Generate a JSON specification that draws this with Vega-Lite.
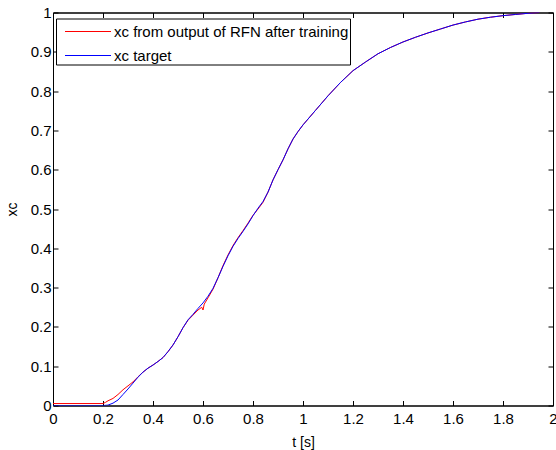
{
  "$schema": "https://vega.github.io/schema/vega-lite/v6.json",
  "width": 500,
  "height": 393,
  "autosize": "none",
  "padding": {"left": 53, "top": 12.5, "right": 3, "bottom": 44.5},
  "background": "white",
  "config": {
    "view": {"stroke": "black", "strokeWidth": 1},
    "font": "Liberation Sans",
    "axis": {
      "grid": false,
      "domainColor": "black",
      "tickColor": "black",
      "labelColor": "black",
      "titleColor": "black",
      "labelFont": "Liberation Sans",
      "titleFont": "Liberation Sans",
      "labelFontSize": 15,
      "titleFontSize": 14,
      "titleFontWeight": "normal",
      "tickSize": -5,
      "format": "~f"
    }
  },
  "data": {"values": [
    {"t": 0, "xc": 0.005, "s": "xc from output of RFN after training"},
    {"t": 0.2, "xc": 0.005, "s": "xc from output of RFN after training"},
    {"t": 0.21, "xc": 0.008, "s": "xc from output of RFN after training"},
    {"t": 0.22, "xc": 0.012, "s": "xc from output of RFN after training"},
    {"t": 0.24, "xc": 0.018, "s": "xc from output of RFN after training"},
    {"t": 0.26, "xc": 0.028, "s": "xc from output of RFN after training"},
    {"t": 0.28, "xc": 0.04, "s": "xc from output of RFN after training"},
    {"t": 0.3, "xc": 0.05, "s": "xc from output of RFN after training"},
    {"t": 0.32, "xc": 0.06, "s": "xc from output of RFN after training"},
    {"t": 0.34, "xc": 0.073, "s": "xc from output of RFN after training"},
    {"t": 0.36, "xc": 0.085, "s": "xc from output of RFN after training"},
    {"t": 0.38, "xc": 0.095, "s": "xc from output of RFN after training"},
    {"t": 0.4, "xc": 0.103, "s": "xc from output of RFN after training"},
    {"t": 0.42, "xc": 0.112, "s": "xc from output of RFN after training"},
    {"t": 0.44, "xc": 0.122, "s": "xc from output of RFN after training"},
    {"t": 0.46, "xc": 0.137, "s": "xc from output of RFN after training"},
    {"t": 0.48, "xc": 0.154, "s": "xc from output of RFN after training"},
    {"t": 0.5, "xc": 0.175, "s": "xc from output of RFN after training"},
    {"t": 0.52, "xc": 0.198, "s": "xc from output of RFN after training"},
    {"t": 0.54, "xc": 0.217, "s": "xc from output of RFN after training"},
    {"t": 0.56, "xc": 0.23, "s": "xc from output of RFN after training"},
    {"t": 0.58, "xc": 0.243, "s": "xc from output of RFN after training"},
    {"t": 0.595, "xc": 0.25, "s": "xc from output of RFN after training"},
    {"t": 0.6, "xc": 0.243, "s": "xc from output of RFN after training"},
    {"t": 0.605, "xc": 0.258, "s": "xc from output of RFN after training"},
    {"t": 0.62, "xc": 0.274, "s": "xc from output of RFN after training"},
    {"t": 0.64, "xc": 0.296, "s": "xc from output of RFN after training"},
    {"t": 0.66, "xc": 0.325, "s": "xc from output of RFN after training"},
    {"t": 0.68, "xc": 0.356, "s": "xc from output of RFN after training"},
    {"t": 0.7, "xc": 0.383, "s": "xc from output of RFN after training"},
    {"t": 0.72, "xc": 0.407, "s": "xc from output of RFN after training"},
    {"t": 0.74, "xc": 0.427, "s": "xc from output of RFN after training"},
    {"t": 0.76, "xc": 0.445, "s": "xc from output of RFN after training"},
    {"t": 0.78, "xc": 0.464, "s": "xc from output of RFN after training"},
    {"t": 0.8, "xc": 0.484, "s": "xc from output of RFN after training"},
    {"t": 0.82, "xc": 0.5, "s": "xc from output of RFN after training"},
    {"t": 0.84, "xc": 0.517, "s": "xc from output of RFN after training"},
    {"t": 0.86, "xc": 0.543, "s": "xc from output of RFN after training"},
    {"t": 0.88, "xc": 0.574, "s": "xc from output of RFN after training"},
    {"t": 0.9, "xc": 0.6, "s": "xc from output of RFN after training"},
    {"t": 0.92, "xc": 0.625, "s": "xc from output of RFN after training"},
    {"t": 0.94, "xc": 0.653, "s": "xc from output of RFN after training"},
    {"t": 0.96, "xc": 0.678, "s": "xc from output of RFN after training"},
    {"t": 0.98, "xc": 0.697, "s": "xc from output of RFN after training"},
    {"t": 1.0, "xc": 0.714, "s": "xc from output of RFN after training"},
    {"t": 1.05, "xc": 0.751, "s": "xc from output of RFN after training"},
    {"t": 1.1, "xc": 0.788, "s": "xc from output of RFN after training"},
    {"t": 1.15, "xc": 0.822, "s": "xc from output of RFN after training"},
    {"t": 1.2, "xc": 0.852, "s": "xc from output of RFN after training"},
    {"t": 1.25, "xc": 0.874, "s": "xc from output of RFN after training"},
    {"t": 1.3, "xc": 0.895, "s": "xc from output of RFN after training"},
    {"t": 1.35, "xc": 0.911, "s": "xc from output of RFN after training"},
    {"t": 1.4, "xc": 0.925, "s": "xc from output of RFN after training"},
    {"t": 1.45, "xc": 0.937, "s": "xc from output of RFN after training"},
    {"t": 1.5, "xc": 0.948, "s": "xc from output of RFN after training"},
    {"t": 1.55, "xc": 0.958, "s": "xc from output of RFN after training"},
    {"t": 1.6, "xc": 0.968, "s": "xc from output of RFN after training"},
    {"t": 1.65, "xc": 0.976, "s": "xc from output of RFN after training"},
    {"t": 1.7, "xc": 0.983, "s": "xc from output of RFN after training"},
    {"t": 1.75, "xc": 0.988, "s": "xc from output of RFN after training"},
    {"t": 1.8, "xc": 0.992, "s": "xc from output of RFN after training"},
    {"t": 1.85, "xc": 0.995, "s": "xc from output of RFN after training"},
    {"t": 1.9, "xc": 0.998, "s": "xc from output of RFN after training"},
    {"t": 1.945, "xc": 1.0, "s": "xc from output of RFN after training"},
    {"t": 0, "xc": 0, "s": "xc target"},
    {"t": 0.2, "xc": 0, "s": "xc target"},
    {"t": 0.22, "xc": 0.001, "s": "xc target"},
    {"t": 0.24, "xc": 0.006, "s": "xc target"},
    {"t": 0.26, "xc": 0.014, "s": "xc target"},
    {"t": 0.28, "xc": 0.028, "s": "xc target"},
    {"t": 0.3, "xc": 0.042, "s": "xc target"},
    {"t": 0.32, "xc": 0.057, "s": "xc target"},
    {"t": 0.34, "xc": 0.072, "s": "xc target"},
    {"t": 0.36, "xc": 0.085, "s": "xc target"},
    {"t": 0.38, "xc": 0.095, "s": "xc target"},
    {"t": 0.4, "xc": 0.103, "s": "xc target"},
    {"t": 0.42, "xc": 0.112, "s": "xc target"},
    {"t": 0.44, "xc": 0.122, "s": "xc target"},
    {"t": 0.46, "xc": 0.137, "s": "xc target"},
    {"t": 0.48, "xc": 0.154, "s": "xc target"},
    {"t": 0.5, "xc": 0.175, "s": "xc target"},
    {"t": 0.52, "xc": 0.198, "s": "xc target"},
    {"t": 0.54, "xc": 0.218, "s": "xc target"},
    {"t": 0.56, "xc": 0.232, "s": "xc target"},
    {"t": 0.58, "xc": 0.247, "s": "xc target"},
    {"t": 0.6, "xc": 0.261, "s": "xc target"},
    {"t": 0.62, "xc": 0.278, "s": "xc target"},
    {"t": 0.64, "xc": 0.298, "s": "xc target"},
    {"t": 0.66, "xc": 0.325, "s": "xc target"},
    {"t": 0.68, "xc": 0.354, "s": "xc target"},
    {"t": 0.7, "xc": 0.381, "s": "xc target"},
    {"t": 0.72, "xc": 0.405, "s": "xc target"},
    {"t": 0.74, "xc": 0.425, "s": "xc target"},
    {"t": 0.76, "xc": 0.443, "s": "xc target"},
    {"t": 0.78, "xc": 0.462, "s": "xc target"},
    {"t": 0.8, "xc": 0.483, "s": "xc target"},
    {"t": 0.82, "xc": 0.502, "s": "xc target"},
    {"t": 0.84, "xc": 0.519, "s": "xc target"},
    {"t": 0.86, "xc": 0.543, "s": "xc target"},
    {"t": 0.88, "xc": 0.574, "s": "xc target"},
    {"t": 0.9, "xc": 0.6, "s": "xc target"},
    {"t": 0.92, "xc": 0.625, "s": "xc target"},
    {"t": 0.94, "xc": 0.653, "s": "xc target"},
    {"t": 0.96, "xc": 0.678, "s": "xc target"},
    {"t": 0.98, "xc": 0.697, "s": "xc target"},
    {"t": 1.0, "xc": 0.714, "s": "xc target"},
    {"t": 1.05, "xc": 0.751, "s": "xc target"},
    {"t": 1.1, "xc": 0.788, "s": "xc target"},
    {"t": 1.15, "xc": 0.822, "s": "xc target"},
    {"t": 1.2, "xc": 0.852, "s": "xc target"},
    {"t": 1.25, "xc": 0.874, "s": "xc target"},
    {"t": 1.3, "xc": 0.895, "s": "xc target"},
    {"t": 1.35, "xc": 0.911, "s": "xc target"},
    {"t": 1.4, "xc": 0.925, "s": "xc target"},
    {"t": 1.45, "xc": 0.937, "s": "xc target"},
    {"t": 1.5, "xc": 0.948, "s": "xc target"},
    {"t": 1.55, "xc": 0.958, "s": "xc target"},
    {"t": 1.6, "xc": 0.968, "s": "xc target"},
    {"t": 1.65, "xc": 0.976, "s": "xc target"},
    {"t": 1.7, "xc": 0.983, "s": "xc target"},
    {"t": 1.75, "xc": 0.988, "s": "xc target"},
    {"t": 1.8, "xc": 0.992, "s": "xc target"},
    {"t": 1.85, "xc": 0.995, "s": "xc target"},
    {"t": 1.9, "xc": 0.998, "s": "xc target"},
    {"t": 1.945, "xc": 1.0, "s": "xc target"}
  ]},
  "layer": [
    {
      "mark": {"type": "line", "strokeWidth": 1, "clip": true},
      "encoding": {
        "x": {"field": "t", "type": "quantitative",
              "scale": {"domain": [0, 2], "nice": false, "zero": false},
              "axis": {"title": "t [s]", "values": [0, 0.2, 0.4, 0.6, 0.8, 1, 1.2, 1.4, 1.6, 1.8, 2], "labelPadding": 11, "titlePadding": 9, "labelFlush": false}},
        "y": {"field": "xc", "type": "quantitative",
              "scale": {"domain": [0, 1], "nice": false},
              "axis": {"title": "xc", "values": [0, 0.1, 0.2, 0.3, 0.4, 0.5, 0.6, 0.7, 0.8, 0.9, 1], "labelPadding": 7, "titlePadding": 11, "labelFlush": false}},
        "color": {"field": "s", "type": "nominal",
                  "scale": {"domain": ["xc from output of RFN after training", "xc target"], "range": ["#ff0000", "#0000ff"]},
                  "legend": {"title": null, "orient": "none", "legendX": 3, "legendY": 6,
                             "strokeColor": "black", "fillColor": "white", "padding": 1,
                             "symbolType": "M-2,0H2", "symbolSize": 529, "symbolStrokeWidth": 1,
                             "symbolOffset": 19, "labelOffset": 14, "rowPadding": 4,
                             "labelFontSize": 15, "labelFont": "Liberation Sans", "labelColor": "black", "labelLimit": 400}}
      }
    },
    {
      "mark": {"type": "line", "opacity": 0},
      "encoding": {
        "x": {"field": "t", "type": "quantitative",
              "axis": {"orient": "top", "labels": false, "title": null, "values": [0, 0.2, 0.4, 0.6, 0.8, 1, 1.2, 1.4, 1.6, 1.8, 2]}},
        "y": {"field": "xc", "type": "quantitative",
              "axis": {"orient": "right", "labels": false, "title": null, "values": [0, 0.1, 0.2, 0.3, 0.4, 0.5, 0.6, 0.7, 0.8, 0.9, 1]}}
      }
    }
  ],
  "resolve": {"axis": {"x": "independent", "y": "independent"}}
}
